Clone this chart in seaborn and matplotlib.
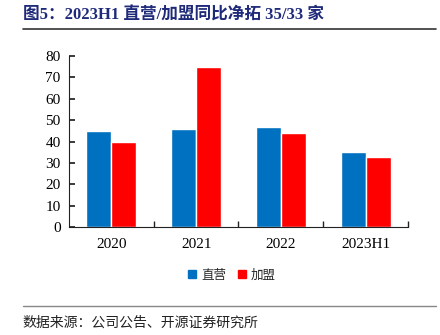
import matplotlib
matplotlib.use("Agg")
import matplotlib.pyplot as plt
import seaborn as sns
import pandas as pd
import numpy as np
from matplotlib.lines import Line2D

categories = ["2020", "2021", "2022", "2023H1"]
direct = [45, 46, 47, 35]
franchise = [40, 75, 44, 33]
series_names = ["直营", "加盟"]
colors = ["#0070C0", "#FF0000"]

df = pd.DataFrame({
    "period": categories * 2,
    "value": direct + franchise,
    "type": [series_names[0]] * 4 + [series_names[1]] * 4,
})

sns.set_theme(style="white")
plt.rcParams["font.family"] = ["Liberation Serif", "Noto Sans CJK SC", "DejaVu Sans"]

fig = plt.figure(figsize=(4.4, 3.35), dpi=100)
ax = fig.add_axes([0.157, 0.322, 0.770, 0.511])
sns.barplot(data=df, x="period", y="value", hue="type", palette=colors,
            width=0.59, saturation=1, ax=ax, legend=False)

ax.set_ylim(0, 80)
ax.set_yticks(range(0, 81, 10))
ax.set_xlim(-0.5, 3.5)
ax.set_xlabel("")
ax.set_ylabel("")
for s in ["top", "right"]:
    ax.spines[s].set_visible(False)
for s in ["left", "bottom"]:
    ax.spines[s].set_color("#222222")
    ax.spines[s].set_linewidth(0.8)
ax.tick_params(axis="y", direction="in", length=4, labelsize=11, colors="#222222", pad=6, left=True)
ax.tick_params(axis="x", which="major", length=0, labelsize=11, pad=8, colors="#222222")
ax.set_xticks([0.5, 1.5, 2.5, 3.5], minor=True)
ax.tick_params(axis="x", which="minor", direction="in", length=4, color="#222222", bottom=True)
for lbl in ax.get_xticklabels() + ax.get_yticklabels():
    lbl.set_color("black")

handles = [Line2D([0], [0], marker="s", linestyle="", markersize=6,
                  markerfacecolor=c, markeredgecolor=c) for c in colors]
fig.legend(handles, series_names, loc="center", bbox_to_anchor=(0.525, 0.178),
           ncol=2, frameon=False, handletextpad=0.2, columnspacing=0.8,
           handlelength=1.0, prop={"family": ["Noto Sans CJK SC"], "size": 9})

fig.text(0.052, 0.955, "图5：2023H1 直营/加盟同比净拓 35/33 家", fontsize=12,
         fontweight="bold", color="#1F2A7A", va="center",
         family=["Liberation Serif", "Noto Sans CJK SC"])
fig.add_artist(Line2D([0.052, 0.99], [0.913, 0.913], color="#333333", linewidth=1.2))
fig.add_artist(Line2D([0.052, 0.99], [0.087, 0.087], color="#888888", linewidth=1.0))
fig.text(0.052, 0.036, "数据来源：公司公告、开源证券研究所", fontsize=10, color="#222222",
         va="center", family=["Noto Sans CJK SC"])

fig.savefig("out.png", dpi=100)
